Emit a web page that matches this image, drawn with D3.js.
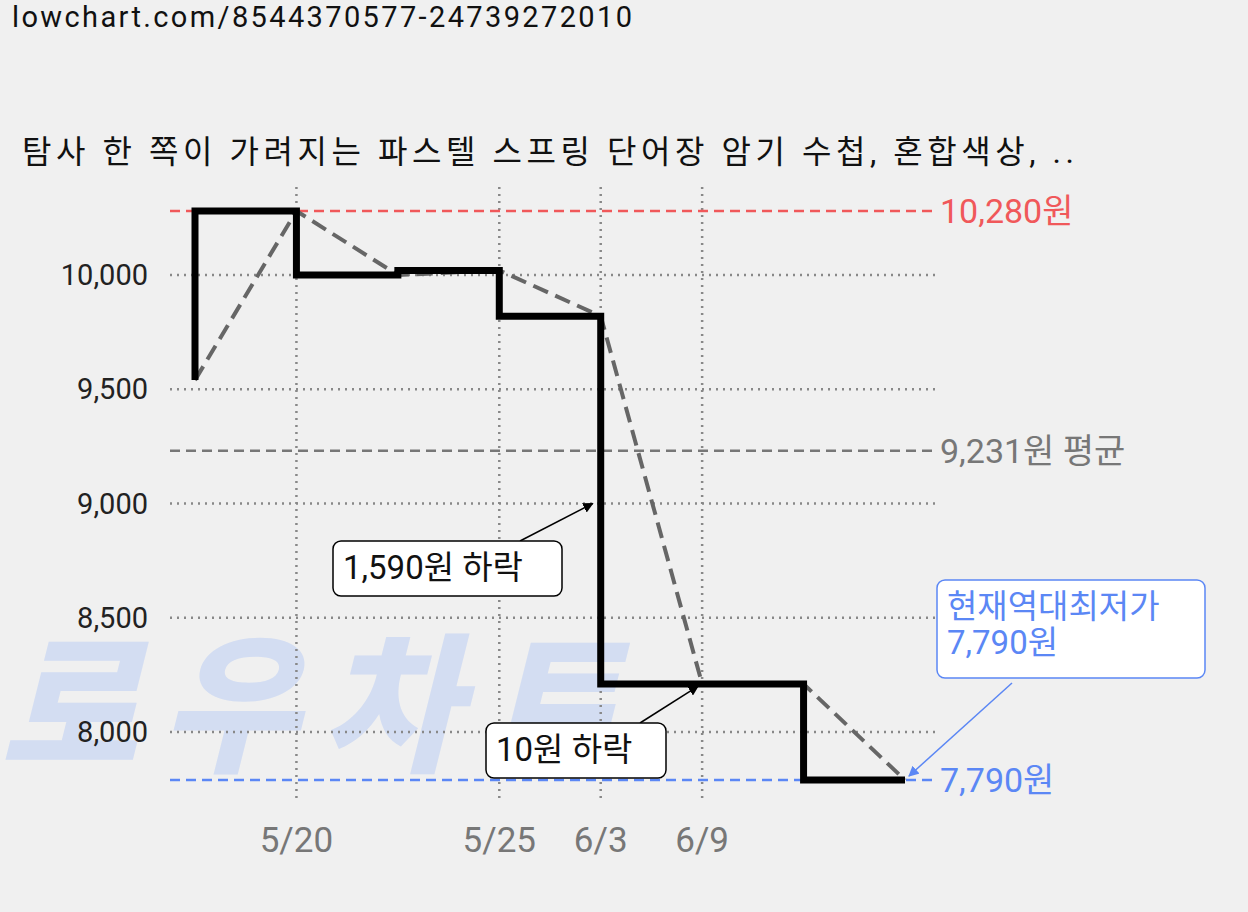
<!DOCTYPE html>
<html><head><meta charset="utf-8">
<script src="https://cdn.jsdelivr.net/npm/d3@7"></script>
<style>body{margin:0;background:#f0f0f0;font-family:Roboto,"Noto Sans CJK KR",sans-serif}</style>
</head><body><div id="chart-area"></div>
<script>
var dates = ["", "5/20", "", "5/25", "6/3", "6/9", "", ""];
var prices = [9540, 10280, 10000, 10020, 9820, 8210, 8210, 7790];
var yTicks = [8000, 8500, 9000, 9500, 10000];
var maxPrice = 10280, avgPrice = 9231, minPrice = 7790;

var svg = d3.select("#chart-area").append("svg")
    .attr("width", 1248).attr("height", 912)
    .style("font-family", "Roboto,'Noto Sans CJK KR',sans-serif");

var x = d3.scaleLinear().domain([0, 7]).range([195, 905]);
var y = d3.scaleLinear().domain([8000, 10000]).range([732, 275]);

svg.append("text").attr("x", 12).attr("y", 27).attr("font-size", 29).attr("fill", "#111")
    .attr("textLength", 620).text("lowchart.com/8544370577-24739272010");
svg.append("text").attr("x", 22).attr("y", 163).attr("font-size", 32).attr("fill", "#111")
    .attr("textLength", 1052).text("탐사 한 쪽이 가려지는 파스텔 스프링 단어장 암기 수첩, 혼합색상, ..");

// watermark
svg.append("text").attr("x", 0).attr("y", 760).attr("font-size", 150).attr("font-weight", "900")
    .attr("font-style", "italic").attr("fill", "#d3ddf2").attr("textLength", 620)
    .text("로우차트");

// grid
svg.selectAll(".hg").data(yTicks).enter().append("line")
    .attr("x1", 170).attr("x2", 935).attr("y1", d => y(d)).attr("y2", d => y(d))
    .attr("stroke", "#888").attr("stroke-width", 2.5).attr("stroke-dasharray", "2,5");
svg.selectAll(".yl").data(yTicks).enter().append("text")
    .attr("x", 148).attr("y", d => y(d) + 10).attr("text-anchor", "end")
    .attr("font-size", 29).attr("fill", "#222").text(d3.format(","));
var xi = dates.map((d, i) => i).filter(i => dates[i]);
svg.selectAll(".vg").data(xi).enter().append("line")
    .attr("x1", d => x(d)).attr("x2", d => x(d)).attr("y1", 187).attr("y2", 800)
    .attr("stroke", "#888").attr("stroke-width", 2.5).attr("stroke-dasharray", "2,5");
svg.selectAll(".xl").data(xi).enter().append("text")
    .attr("x", d => x(d)).attr("y", 852).attr("text-anchor", "middle")
    .attr("font-size", 35).attr("fill", "#777").text(d => dates[d]);

// reference lines
var refs = [
  {v: maxPrice, c: "#f0585a", t: "10,280원"},
  {v: avgPrice, c: "#777", t: "9,231원 평균"},
  {v: minPrice, c: "#5b87f5", t: "7,790원"}
];
refs.forEach(r => {
  svg.append("line").attr("x1", 170).attr("x2", 935).attr("y1", y(r.v)).attr("y2", y(r.v))
      .attr("stroke", r.c).attr("stroke-width", 2.5).attr("stroke-dasharray", "10,6");
  svg.append("text").attr("x", 940).attr("y", y(r.v) + 12).attr("font-size", 34)
      .attr("fill", r.c).text(r.t);
});

// lines
svg.append("path").datum(prices)
    .attr("d", d3.line().x((d, i) => x(i)).y(d => y(d)))
    .attr("fill", "none").attr("stroke", "#666").attr("stroke-width", 4).attr("stroke-dasharray", "16,8");
svg.append("path").datum(prices)
    .attr("d", d3.line().x((d, i) => x(i)).y(d => y(d)).curve(d3.curveStepBefore))
    .attr("fill", "none").attr("stroke", "#000").attr("stroke-width", 7);

// annotations
var defs = svg.append("defs");
[["ab", "#000"], ["ablue", "#5b87f5"]].forEach(m => {
  defs.append("marker").attr("id", m[0]).attr("viewBox", "0 0 10 10").attr("refX", 9).attr("refY", 5)
      .attr("markerWidth", 7).attr("markerHeight", 7).attr("orient", "auto")
      .append("path").attr("d", "M0,0L10,5L0,10z").attr("fill", m[1]);
});
function note(bx, by, bw, bh, lines, stroke, col, ax1, ay1, ax2, ay2, mk) {
  svg.append("line").attr("x1", ax1).attr("y1", ay1).attr("x2", ax2).attr("y2", ay2)
      .attr("stroke", stroke).attr("stroke-width", 1.5).attr("marker-end", "url(#" + mk + ")");
  svg.append("rect").attr("x", bx).attr("y", by).attr("width", bw).attr("height", bh).attr("rx", 8)
      .attr("fill", "#fff").attr("stroke", stroke).attr("stroke-width", 1.5);
  lines.forEach((t, i) => svg.append("text").attr("x", bx + 10).attr("y", by + 38 + i * 36)
      .attr("font-size", 33).attr("fill", col).text(t));
}
note(333, 541, 229, 55, ["1,590원 하락"], "#000", "#111", 520, 541, x(4) - 8, y(9000), "ab");
note(486, 723, 180, 55, ["10원 하락"], "#000", "#111", 640, 723, x(5) - 4, y(8210) + 2, "ab");
note(937, 580, 268, 98, ["현재역대최저가", "7,790원"], "#5b87f5", "#5b87f5", 1012, 683, x(7) + 4, y(minPrice) - 4, "ablue");
</script></body></html>
